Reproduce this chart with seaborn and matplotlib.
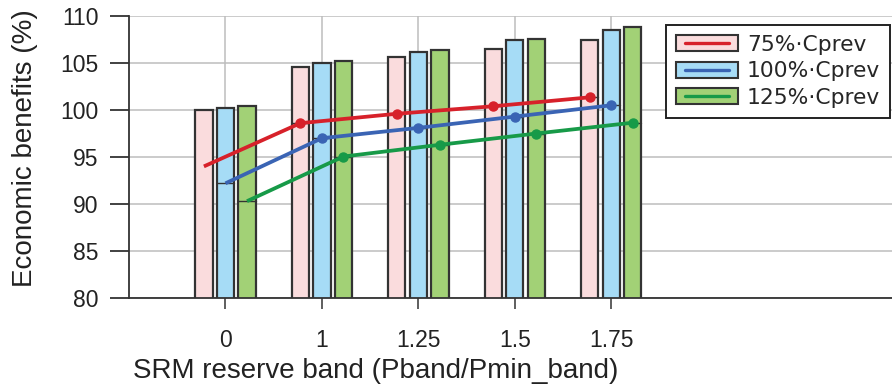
import matplotlib
matplotlib.use("Agg")
import matplotlib.pyplot as plt
import seaborn as sns
import pandas as pd
import numpy as np
from matplotlib.patches import Rectangle
from matplotlib.lines import Line2D
from matplotlib.legend_handler import HandlerBase

# Reserve band categories (Pband / Pmin_band)
bands = ["0", "1", "1.25", "1.5", "1.75"]
scenarios = ["75%·Cprev", "100%·Cprev", "125%·Cprev"]

# Bar heights: economic benefits (%)
bars_75 = [100.0, 104.6, 105.6, 106.5, 107.4]
bars_100 = [100.2, 105.0, 106.2, 107.4, 108.5]
bars_125 = [100.4, 105.2, 106.4, 107.6, 108.8]

# Line values: economic benefits (%)
line_75 = [94.0, 98.6, 99.6, 100.4, 101.35]
line_100 = [92.2, 97.0, 98.1, 99.3, 100.5]
line_125 = [90.3, 95.05, 96.3, 97.5, 98.65]

bar_colors = ["#FADCDD", "#A6DCF6", "#A2D176"]
line_colors = ["#D7212A", "#3A64B4", "#179A48"]
edge = "#333333"
text_color = "#222222"

df = pd.DataFrame({
    "band": bands * 3,
    "scenario": np.repeat(scenarios, len(bands)),
    "value": bars_75 + bars_100 + bars_125,
})
lines = [line_75, line_100, line_125]


class BarLineHandler(HandlerBase):
    """Legend key: filled bar swatch with a shorter coloured line across it."""

    def __init__(self, face, color):
        super().__init__()
        self.face = face
        self.color = color

    def create_artists(self, legend, orig_handle, xdescent, ydescent,
                       width, height, fontsize, trans):
        rect = Rectangle((-xdescent, -ydescent), width, height, facecolor=self.face,
                         edgecolor=edge, lw=1.5, transform=trans)
        y = -ydescent + height / 2
        ln = Line2D([-xdescent + 0.15 * width, -xdescent + 0.85 * width], [y, y],
                    color=self.color, lw=2.4, transform=trans)
        return [rect, ln]


sns.set_theme(style="white")
plt.rcParams["font.family"] = ["Liberation Sans", "DejaVu Sans"]

fig = plt.figure(figsize=(8.92, 3.85), dpi=100)
W, H = 892, 385
x_left, x_right, y_top, y_bot = 129, 892, 16, 298
ax = fig.add_axes([x_left / W, 1 - y_bot / H, (x_right - x_left) / W, (y_bot - y_top) / H])

sns.barplot(data=df, x="band", y="value", hue="scenario", hue_order=scenarios,
            order=bands, palette=bar_colors, width=0.67, gap=0.2,
            edgecolor=edge, linewidth=1.6, saturation=1, legend=False, ax=ax,
            zorder=2)

# lines run through the bar centres of each scenario; a thin divider marks
# the line level inside each bar
for k, (cont, vals, lc) in enumerate(zip(ax.containers, lines, line_colors)):
    xs = [p.get_x() + p.get_width() / 2 for p in cont.patches]
    for i, (p, v) in enumerate(zip(cont.patches, vals)):
        if k == 0 and i == 0:
            continue
        ax.plot([p.get_x(), p.get_x() + p.get_width()], [v, v], color=edge,
                lw=1.0, zorder=3)
    ax.plot(xs, vals, color=lc, lw=2.7, marker="o", ms=6.5,
            markevery=[1, 2, 3, 4], zorder=4, solid_capstyle="butt")

ax.set_ylim(80, 110)
ax.set_xlim(-1.0, 6.91)
ax.set_yticks([80, 85, 90, 95, 100, 105, 110])
ax.grid(True, color="#BDBDBD", lw=1.1, zorder=0)
ax.set_axisbelow(True)
for s in ["top", "right"]:
    ax.spines[s].set_visible(False)
for s in ["left", "bottom"]:
    ax.spines[s].set_color(edge)
    ax.spines[s].set_linewidth(1.3)
ax.tick_params(axis="y", direction="out", length=14, width=1.3, color=edge,
               labelsize=16.5, pad=8, left=True, labelcolor=text_color)
ax.tick_params(axis="x", direction="out", length=8, width=1.1, color=edge,
               labelsize=16.5, pad=14, bottom=True, labelcolor=text_color)

ax.set_xlabel("SRM reserve band (Pband/Pmin_band)", fontsize=20, color=text_color)
ax.xaxis.label.set_va("baseline")
ax.xaxis.set_label_coords((376 - x_left) / (x_right - x_left), (y_bot - 378) / (y_bot - y_top))

ax.set_ylabel("Economic benefits (%)", fontsize=20, color=text_color)
ax.yaxis.set_label_coords((38 - x_left) / (x_right - x_left), (y_bot - 148) / (y_bot - y_top))

handles = [Rectangle((0, 0), 1, 1) for _ in scenarios]
hmap = {h: BarLineHandler(bc, lc) for h, bc, lc in zip(handles, bar_colors, line_colors)}
leg = fig.legend(handles, scenarios, handler_map=hmap,
                 loc="upper right", bbox_to_anchor=(890 / W, 1 - 25 / H),
                 frameon=True, fancybox=False, framealpha=1, edgecolor=text_color,
                 prop={"family": "DejaVu Sans", "size": 15.7},
                 handlelength=2.85, handleheight=0.75, labelspacing=0.3,
                 handletextpad=0.4, borderpad=0.45, borderaxespad=0)
leg.get_frame().set_linewidth(1.4)

fig.savefig("out.png", dpi=100)
